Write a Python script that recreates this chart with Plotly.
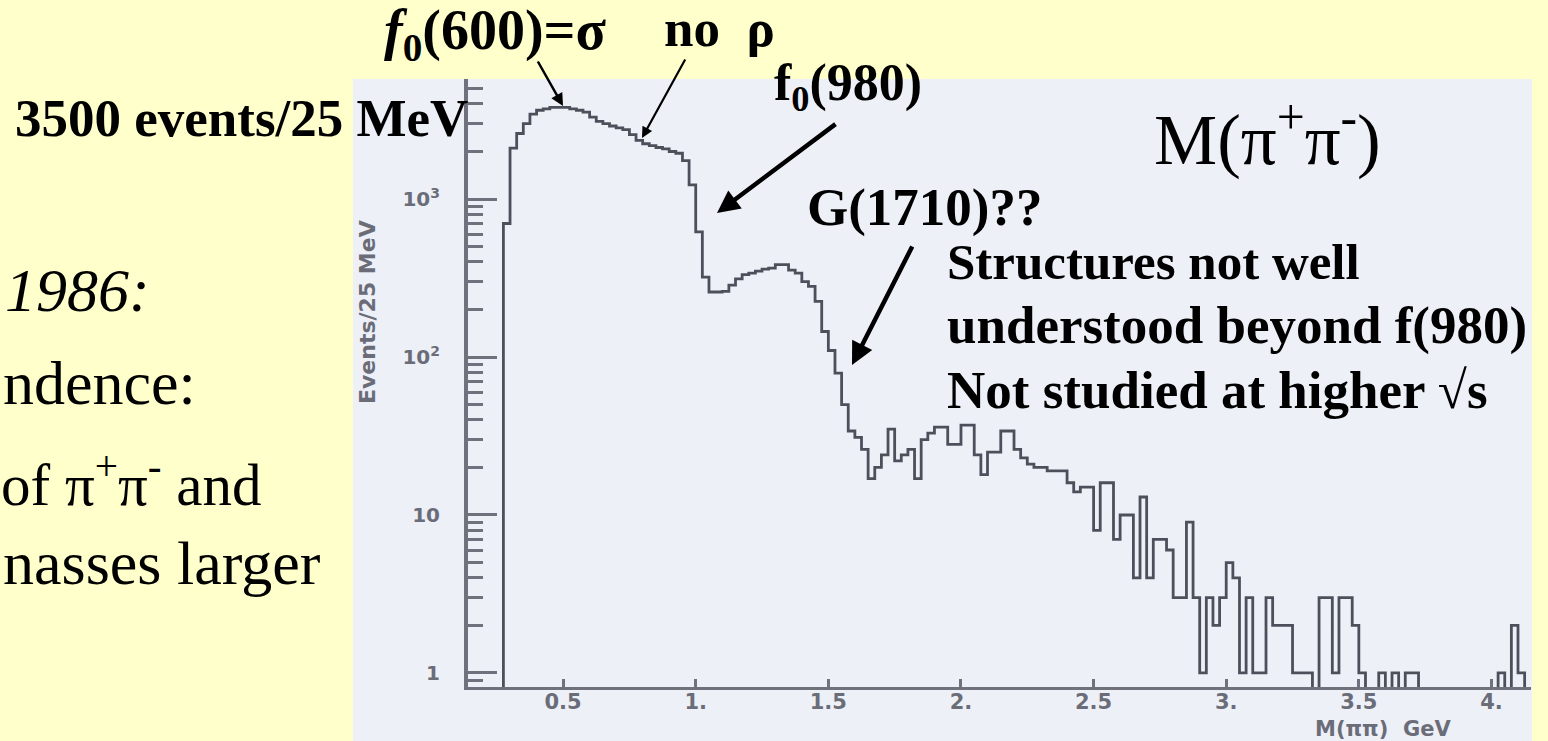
import plotly.graph_objects as go

# ---- data: M(pi+ pi-) spectrum, 25 MeV bins starting at 0.275 GeV ----
bin_start = 0.275   # GeV
bin_width = 0.025   # GeV
counts = [
    700, 2100, 2600, 3000, 3450, 3650, 3720, 3800, 3800, 3800,
    3720, 3650, 3550, 3300, 3100, 3000, 2900, 2820, 2750, 2560,
    2350, 2240, 2180, 2120, 2080, 2000, 1950, 1750, 1230, 620,
    320, 258, 258, 260, 285, 312, 332, 340, 350, 360,
    365, 385, 385, 355, 340, 300, 280, 225, 145, 110,
    79, 50, 34, 31, 26, 17, 20, 24, 35, 22,
    24, 26, 17, 30, 33, 36, 36, 28, 28, 37,
    37, 24, 18, 25, 25, 34, 34, 26, 23, 21,
    20, 20, 19, 19, 19, 16, 14, 15, 15, 8,
    16, 16, 7, 10, 10, 4, 13, 4, 7, 7,
    6, 3, 3, 9, 3, 1, 3, 2, 3, 5,
    4, 1, 3, 1, 1, 3, 2, 2, 2, 1,
    1, 1, 0, 3, 3, 1, 3, 3, 2, 1,
    0, 0, 1, 0, 1, 0, 1, 1, 0, 0,
    0, 0, 0, 0, 0, 0, 0, 0, 0, 0,
    1, 0, 2, 1, 0,
]

x_tick_vals = [0.5, 1.0, 1.5, 2.0, 2.5, 3.0, 3.5, 4.0]
x_tick_text = ["0.5", "1.", "1.5", "2.", "2.5", "3.", "3.5", "4."]
y_tick_vals = [1, 10, 100, 1000]
y_tick_text = ["1", "10", "10<sup>2</sup>", "10<sup>3</sup>"]
y_minor_vals = [0.9] + [m * 10 ** d for d in range(0, 4) for m in range(2, 10) if m * 10 ** d < 6000]

# ---- page geometry ----
W, H = 1548, 741
L, R, T, B = 468, 17, 79, 54
PLOT_W, PLOT_H = W - L - R, H - T - B

SLIDE = "#FFFFCC"
PANEL = "#EEF0F8"
INK = "#4d505b"
AXIS = "#6f727c"
LABEL = "#6a6d78"
SERIF = "Liberation Serif, Times New Roman, serif"
SANS = "DejaVu Sans, Arial, sans-serif"


def paper(px, py):
    """Page pixel -> paper coordinates of the plot area."""
    return (px - L) / PLOT_W, (H - B - py) / PLOT_H


# step outline: empty bins fall below the visible range and get clipped
floor = 0.3
edges = [bin_start + i * bin_width for i in range(len(counts) + 1)]
levels = [c if c > 0 else floor for c in counts]
step_x = [edges[0]] + edges
step_y = [floor] + levels + [levels[-1]]

fig = go.Figure()
fig.add_trace(go.Scatter(
    x=step_x, y=step_y, mode="lines", line_shape="hv",
    line=dict(color=INK, width=2.8), hoverinfo="skip", showlegend=False,
))

# scanned-figure panel behind the axes
px0, py0 = paper(353, 741)
px1, py1 = paper(1532, 79)
fig.add_shape(type="rect", xref="paper", yref="paper", x0=px0, y0=py0, x1=px1, y1=py1,
              fillcolor=PANEL, line_width=0, layer="below")

annotations = []


def text(s, x, y, size, anchor="left", family=SERIF, color="black", angle=0):
    ax, ay = paper(x, y)
    annotations.append(dict(text=s, x=ax, y=ay, xref="paper", yref="paper",
                            xanchor=anchor, yanchor="middle", showarrow=False,
                            textangle=angle, borderpad=0,
                            font=dict(family=family, size=size, color=color)))


def arrow(head, tail, width):
    hx, hy = paper(*head)
    annotations.append(dict(text="", x=hx, y=hy, xref="paper", yref="paper",
                            ax=tail[0] - head[0], ay=tail[1] - head[1],
                            showarrow=True, arrowhead=2, arrowsize=1.0,
                            arrowwidth=width, arrowcolor="black", standoff=0))


# slide body text (left column, partly hidden behind the figure)
text("<i>1986:</i>", 4, 290, 62)
text("ndence:", 2, 383, 62)
text("of π<sup>+</sup>π<sup>-</sup> and", 0, 480, 59)
text("nasses larger", 2, 563, 62)

# labels on the figure
text("<b>3500 events/25 MeV</b>", 469, 118, 53, anchor="right")
text("<b><i>f</i><sub>0</sub>(600)=σ</b>", 383, 34, 56)
text("<b>no  ρ</b>", 663, 28, 53)
text("<b>f<sub>0</sub>(980)</b>", 773, 86, 52)
text("<b>G(1710)??</b>", 806, 207, 53)
text("<b>Structures not well</b>", 946, 262, 51)
text("<b>understood beyond f(980)</b>", 946, 325, 53)
text("<b>Not studied at higher √s</b>", 946, 390, 53)
text("M(π<sup>+</sup>π<sup>-</sup>)", 1153, 135, 71)

# axis titles of the scanned plot
text("<b>Events/25 MeV</b>", 367, 312, 22, anchor="center", family=SANS, color=LABEL, angle=-90)
text("<b>M(ππ)  GeV</b>", 1383, 729, 21, anchor="center", family=SANS, color=LABEL)

arrow((563, 106), (537, 60), 2.5)
arrow((642, 138), (686, 58), 2.2)
arrow((717, 213), (837, 123), 4.5)
arrow((852, 365), (913, 245), 4.5)

fig.update_layout(
    width=W, height=H,
    margin=dict(l=L, r=R, t=T, b=B, pad=0),
    paper_bgcolor=SLIDE, plot_bgcolor=PANEL,
    annotations=annotations,
    showlegend=False,
)
fig.update_xaxes(
    range=[0.1415, 4.149], showgrid=False, zeroline=False,
    showline=True, linecolor=AXIS, linewidth=3,
    ticks="inside", ticklen=8, tickwidth=3, tickcolor=AXIS,
    tickmode="array", tickvals=x_tick_vals, ticktext=x_tick_text,
    ticklabelstandoff=-6,
    tickfont=dict(family=SANS, size=21, color=LABEL, weight="bold"),
)
fig.update_yaxes(
    type="log", range=[-0.089, 3.76], showgrid=False, zeroline=False,
    showline=True, linecolor=AXIS, linewidth=4,
    ticks="inside", ticklen=29, tickwidth=3, tickcolor=AXIS,
    tickmode="array", tickvals=y_tick_vals, ticktext=y_tick_text,
    ticklabelstandoff=20,
    tickfont=dict(family=SANS, size=20, color=LABEL, weight="bold"),
    minor=dict(tickmode="array", tickvals=y_minor_vals, ticks="inside",
               ticklen=15, tickwidth=2.5, tickcolor=AXIS),
)

fig.write_html("out.html")
